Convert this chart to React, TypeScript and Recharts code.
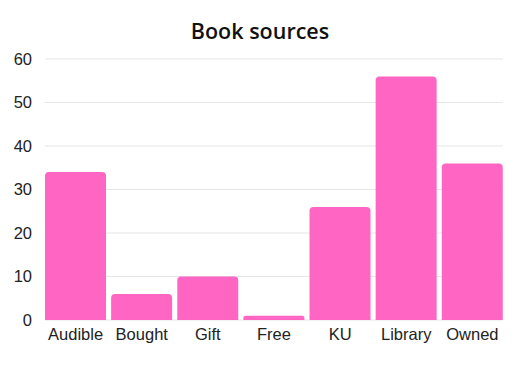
import React from "react";
import { BarChart, Bar, XAxis, YAxis, CartesianGrid } from "recharts";

const categories = ["Audible", "Bought", "Gift", "Free", "KU", "Library", "Owned"];
const counts = [34, 6, 10, 1, 26, 56, 36];
const yTicks = [0, 10, 20, 30, 40, 50, 60];

const data = categories.map((name, i) => ({ name, value: counts[i] }));

export default function App() {
  return (
    <div style={{ position: "absolute", left: 0, top: 0, width: 520, height: 390, background: "#fff" }}>
      <div
        style={{
          position: "absolute",
          left: 0,
          top: 16,
          width: 520,
          textAlign: "center",
          fontFamily: "'Open Sans', sans-serif",
          fontSize: 21.5,
          fontWeight: 600,
          color: "#111",
        }}
      >
        Book sources
      </div>
      <BarChart
        width={520}
        height={390}
        data={data}
        margin={{ top: 59, right: 17, bottom: 40, left: 0 }}
        barCategoryGap={2.45}
      >
        <CartesianGrid vertical={false} stroke="#e6e6e6" />
        <XAxis
          dataKey="name"
          axisLine={false}
          tickLine={false}
          tickMargin={2}
          padding={{ left: -2.45, right: -2.45 }}
          tick={{ fill: "#222", fontSize: 16.5, fontFamily: "'Liberation Sans', Arial, sans-serif" }}
          interval={0}
        />
        <YAxis
          width={45}
          domain={[0, 60]}
          ticks={yTicks}
          axisLine={false}
          tickLine={false}
          tickMargin={7}
          tick={{ fill: "#222", fontSize: 16.5, fontFamily: "'Liberation Sans', Arial, sans-serif" }}
        />
        <Bar dataKey="value" fill="#ff66c4" radius={[4, 4, 0, 0]} isAnimationActive={false} />
      </BarChart>
    </div>
  );
}
